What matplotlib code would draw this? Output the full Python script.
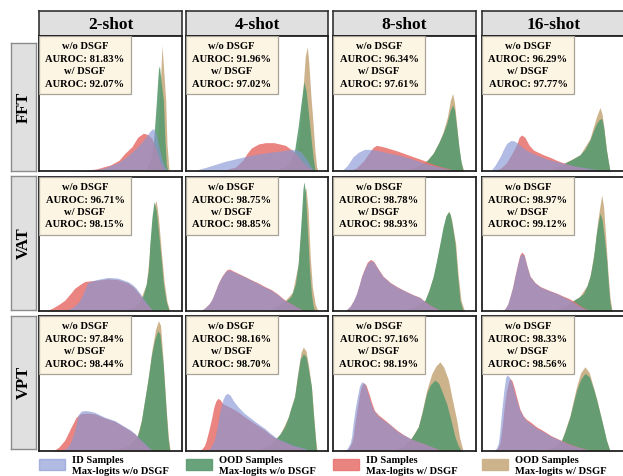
import matplotlib.pyplot as plt
from matplotlib.patches import Rectangle

plt.rcParams["font.family"] = ["Liberation Serif", "DejaVu Serif"]
plt.rcParams["font.weight"] = "bold"

shots = ["2-shot", "4-shot", "8-shot", "16-shot"]
methods = ["FFT", "VAT", "VPT"]

# density curves as (normalised max-logit score, density) pairs, one curve per shot setting
fft_id_wo = [
    [(20, 0), (35, 0.5), (45, 2), (55, 6), (62, 11), (69, 18), (74, 24), (78, 30), (80, 31.5), (82, 27), (84, 18), (86, 9), (88, 3), (90, 0)],
    [(5, 0), (15, 3), (27, 7), (41, 10.5), (50, 12.5), (60, 14), (68, 15), (74, 16), (78, 15.5), (81, 14), (84, 10), (86, 7), (88, 3), (90.6, 0)],
    [(6, 0), (10, 4), (14, 10.5), (18, 14), (22, 16), (26, 16), (30, 15.5), (38, 13.5), (45, 12), (55, 9), (63, 6), (70, 4), (76, 2.5), (82, 1), (87, 0)],
    [(6, 0), (9, 4), (12.6, 10.5), (15, 16), (17.3, 20.5), (20, 22.5), (22, 22.5), (24.5, 21), (26.6, 19), (30, 16), (33.6, 14), (40, 11), (45, 9), (52, 7), (57, 5.7), (66, 3.5), (75.5, 2), (82, 0.8), (87, 0)],
]
fft_ood_wo = [
    [(74, 0), (78, 8), (80, 20), (82, 50), (83.5, 75), (84.2, 78), (85.5, 65), (87, 52), (88, 25), (89, 5), (90, 0)],
    [(60, 0), (70, 3), (74, 8), (76.5, 15.5), (79, 33), (81, 50), (83, 66), (84.5, 60), (86, 45), (88, 25), (89.5, 10), (91, 0)],
    [(50, 0), (56, 2), (62, 5), (66, 8), (70, 13), (74, 21), (77, 28), (79.5, 35), (82, 45), (83.7, 49), (85, 45), (86.5, 32), (88, 18), (89.5, 7), (91, 0)],
    [(45, 0), (52, 2), (57, 5.5), (63, 8.5), (68.5, 12), (72, 16), (75.5, 23), (78, 30), (80, 35), (82, 38), (83.7, 39), (85, 33), (86, 24), (87, 15.5), (88.5, 6), (89.5, 0)],
]
fft_id_w = [
    [(28, 0), (40, 1.5), (50, 4.5), (56, 8), (60, 13), (65, 18), (69, 25), (73, 28), (76, 27), (79, 24), (82, 16), (85, 6), (88, 1), (90, 0)],
    [(25, 0), (35, 3), (40, 8), (43, 13), (46, 17), (51, 20), (56, 21), (62, 21), (66, 20), (70, 19), (74, 16), (78, 12), (82, 7), (86, 3), (90, 0)],
    [(10, 0), (16, 2), (21, 7), (25, 13), (28, 17.5), (30.5, 19), (35, 18), (44.5, 15), (55, 11), (63, 8), (70, 5), (78, 2.5), (85, 0.5), (90, 0)],
    [(8, 0), (13, 2), (17, 6), (21, 13), (24, 19), (26, 25), (27.7, 26.7), (30, 25), (33, 19), (36, 15.5), (43, 12), (48, 10), (52, 8), (57, 6), (63, 4), (70, 2.5), (78, 1), (85, 0)],
]
fft_ood_w = [
    [(80, 0), (83, 20), (84.5, 55), (86, 93), (87.5, 70), (88.6, 52), (89.5, 20), (91, 0)],
    [(76, 0), (80, 25), (82, 55), (84, 85), (85.4, 92), (86.5, 80), (88, 55), (89.5, 35), (90.8, 15), (92, 3), (93, 0)],
    [(50, 0), (60, 4), (66, 8), (70, 13), (74, 21), (77, 29), (80, 40), (82, 52), (83.7, 57.5), (85, 50), (86.5, 34), (88, 18), (89.5, 7), (91.5, 0)],
    [(45, 0), (57, 5.5), (68.5, 12), (75.5, 24), (78, 33), (80, 40), (82.5, 47), (84, 42), (85.5, 30), (87, 16), (88.5, 6), (89.5, 0)],
]

vat_id_wo = [
    [(18, 0), (24, 3), (28, 7), (30, 11), (32, 16), (34, 21), (37, 22.5), (41, 23.6), (48, 25), (55, 24.6), (62, 22), (65, 20), (68, 17), (71, 12.5), (74, 8), (77, 3.5), (80, 0)],
    [(10, 0), (13, 2), (16, 5), (18, 8), (20, 13), (22.5, 20), (25, 25), (27.3, 28.6), (29, 30.3), (30.8, 30.5), (33, 29.5), (37, 27.5), (41.3, 25.5), (46, 23), (50.7, 20.5), (55, 18), (60, 15.5), (64.8, 12), (68, 9), (71, 7), (74, 5.5), (78, 3), (83.6, 0)],
    [(8, 0), (10, 1.5), (12, 3.5), (14.5, 8), (16.5, 13), (18.5, 20), (20, 25.6), (22, 31), (24, 35.5), (26.3, 37.5), (28.5, 36.5), (31, 32), (35, 25.6), (40, 21), (44.5, 18), (50, 15), (56, 12), (60.8, 10), (64, 7), (67.8, 4.5), (72, 2), (77, 0)],
    [(14, 0), (16, 1.5), (18, 5), (19.6, 10.7), (21.5, 18), (23, 25.6), (25, 35), (26.5, 41), (27.8, 43), (29.5, 41), (31.5, 33), (33.6, 25.6), (37, 21), (40.6, 18), (46, 15.5), (52.2, 13), (57, 10.5), (61.5, 8), (66, 5), (70, 2.5), (75.5, 0)],
]
vat_ood_wo = [
    [(60, 0), (66, 3), (70, 6), (73, 12), (75, 20), (76.5, 30), (77.5, 50), (79, 70), (80.4, 81.6), (82, 75), (83.5, 60), (85.5, 38), (87, 20), (89, 7), (91, 0)],
    [(55, 0), (62, 2), (68, 6), (71, 8), (74, 11), (77, 20), (79, 35), (80.3, 55), (81.5, 75), (82.3, 90), (83, 96.5), (84, 90), (85.5, 60), (87, 30), (88.3, 13), (89.5, 4), (90.6, 0)],
    [(50, 0), (56, 2), (61, 5), (64.3, 8), (67, 15), (70, 25.6), (72.5, 38), (74.8, 50.5), (77, 63), (79, 71), (80.7, 74), (82, 72), (83.5, 63), (85.3, 50.5), (87, 28), (88.8, 8), (91, 0)],
    [(50, 0), (56, 2), (60, 4.5), (64, 8), (68, 10.5), (71, 13), (73.5, 19), (75.5, 25.6), (78, 40), (80, 58), (82.5, 73), (84, 68), (85.5, 55), (87.2, 38), (88.5, 18), (89.5, 6), (90.7, 0)],
]
vat_id_w = [
    [(5, 0), (10, 2.5), (14, 5), (18, 8), (22, 13), (25, 17), (29, 20), (32, 22), (36, 22.5), (41, 23), (48, 24), (55, 23.5), (62, 21), (66, 18), (70, 13), (74, 7), (78, 2), (80, 0)],
    [(10, 0), (13, 2), (16, 5), (18, 8), (20, 13), (22.5, 20), (25, 25.5), (27.3, 29), (29, 31), (30.8, 31.3), (33, 30), (37, 28), (41.3, 25.8), (46, 23.3), (50.7, 21), (55, 18.5), (60, 16), (64.8, 12.5), (68, 9.5), (71, 7.3), (74, 5.6), (78, 3), (83.6, 0)],
    [(8, 0), (10, 1.5), (12, 3.5), (14.5, 8), (16.5, 13), (18.5, 20), (20, 26), (22, 31.5), (24, 36.5), (26.3, 38.5), (28.5, 37), (31, 32.5), (35, 26), (40, 21.3), (44.5, 18.3), (50, 15.2), (56, 12.2), (60.8, 10.2), (64, 7.2), (67.8, 4.6), (72, 2), (77, 0)],
    [(14, 0), (16, 1.5), (18, 5), (19.6, 10.7), (21.5, 18), (23, 26), (25, 35.5), (26.5, 42), (27.8, 44), (29.5, 42), (31.5, 33.5), (33.6, 26), (37, 21.3), (40.6, 18.3), (46, 15.8), (52.2, 13.3), (57, 11), (61.5, 9), (66, 6), (70, 3), (76, 0)],
]
vat_ood_w = [
    [(62, 0), (70, 6), (75, 20), (77, 40), (79, 65), (81, 80), (82, 82.3), (83.5, 70), (85.5, 45), (87.5, 22), (89.5, 7), (91.5, 0)],
    [(60, 0), (70, 8), (75, 14), (79, 35), (81, 60), (83, 85), (84.5, 92), (86, 75), (87.5, 40), (89, 18), (91, 5), (93, 0)],
    [(50, 0), (61, 5), (64.5, 8), (70.3, 25.6), (75, 50.5), (79, 71), (81.2, 74.5), (83, 68), (85.8, 50), (87.5, 27), (89.5, 8), (92, 0)],
    [(50, 0), (60, 4.5), (68, 10.5), (73.5, 19), (76, 28), (78.5, 45), (81, 68), (83.7, 86.6), (85, 78), (86.5, 55), (88, 30), (89.5, 10), (91, 0)],
]

vpt_id_wo = [
    [(15, 0), (19, 2), (22, 6), (25, 15.5), (27.3, 26.7), (29.5, 29.5), (32, 30), (35.5, 29.5), (39, 28.6), (46, 25), (53, 22.5), (60, 18), (64, 15.5), (67, 13), (70.5, 9), (74, 5.7), (77, 2.5), (80, 0)],
    [(14, 0), (17, 2), (20, 8), (22, 18), (24, 30), (26, 38), (27.5, 41.5), (29, 42.7), (31, 41.5), (33.5, 37), (36.6, 32.8), (41, 28), (46, 24), (51, 20), (55.4, 16.8), (59, 13.5), (62.5, 10.6), (66, 8.5), (69.5, 7), (75, 4.5), (80, 3), (83.6, 2), (88, 0)],
    [(8, 0), (10, 2), (12, 6), (13, 10.6), (14, 20), (15.4, 30.4), (17, 40), (18.5, 48), (20, 51.3), (22, 50), (24, 44), (26, 37), (28.2, 30.4), (31, 26.5), (35, 23), (39, 20), (44.5, 15), (49, 12), (53.8, 9.4), (58, 7.5), (63, 5.7), (68, 3.5), (72, 2), (77, 0)],
    [(8, 0), (10, 2), (11.4, 5.7), (12.5, 15), (13.8, 30.4), (15.3, 45), (16.5, 54), (17.3, 56.3), (19, 55), (21, 50), (22.5, 44), (24.2, 37.8), (26.5, 30), (28.9, 25.4), (31, 22.5), (33.6, 20.5), (38, 17), (42.9, 14.3), (48, 11), (54.5, 8), (60, 5.5), (66, 3.2), (72, 1.5), (77.8, 0)],
]
vpt_ood_wo = [
    [(50, 0), (58, 2), (63, 4), (66, 7), (68.5, 10.6), (70, 15), (71.7, 23), (73.5, 35), (76.2, 52.6), (78.5, 70), (81, 83), (83, 89), (84.5, 87), (86.7, 65), (88, 45), (89, 28), (90.2, 10), (91.4, 0)],
    [(50, 0), (56, 2.5), (60, 5), (63.6, 9.4), (66.5, 13), (69.5, 18), (72, 25), (74, 32), (76.5, 40), (78.5, 55), (80.5, 68), (82.6, 72), (84.5, 70), (86, 62), (88.3, 47.6), (89.5, 30), (90.6, 15.5), (91.8, 0)],
    [(40, 0), (45, 1.5), (49, 3), (53.8, 8), (57, 13), (59.7, 18), (62, 27), (65.5, 42.7), (68, 49), (71.3, 52.6), (74, 50), (77, 42), (79.5, 35), (82, 25), (85.3, 10.6), (87.5, 4), (90, 0)],
    [(40, 0), (46, 1), (50, 2.5), (53, 5), (55.7, 8), (58, 14), (61.5, 25.4), (64, 36), (66.2, 45), (69, 53), (72, 57.5), (75, 55), (78, 46), (80.2, 37.8), (82.5, 28), (84.8, 18), (87, 8), (89.5, 0)],
]
vpt_id_w = [
    [(10, 0), (14, 3), (18, 8), (22.6, 18), (26, 25), (29, 27.5), (32, 28), (35.5, 28), (39, 27.5), (46, 24.5), (53, 22), (60, 17.5), (64, 15), (67, 12.5), (70.5, 8.5), (74, 5), (77, 2), (80, 0)],
    [(8, 0), (10.8, 1), (13, 4), (14.3, 8), (16, 15), (17.8, 23), (19.5, 32), (21, 37), (22.5, 39), (24, 38), (26, 35), (29, 33.5), (33.5, 31), (36.6, 29), (41, 25.5), (46, 22), (51, 18.5), (55.4, 15.5), (59, 12.5), (62.5, 10), (66, 8), (69.5, 6.5), (75, 4), (80, 2.5), (83.6, 1.5), (88, 0)],
    [(9, 0), (11, 2), (13, 6), (14, 10), (15, 18), (16.5, 29), (18, 39), (19.5, 47), (21.2, 50.6), (23, 49), (25, 43), (27, 36), (29, 30), (31.5, 27), (35, 24), (39, 20.5), (44.5, 15.6), (49, 12.3), (53.8, 9.4), (58, 7.5), (63, 5.7), (68, 3.5), (72, 2), (77, 0)],
    [(9, 0), (11, 2), (12.5, 6), (14, 17), (15.5, 32), (17, 44), (18.5, 51), (19.6, 53.8), (21, 52), (22.5, 47), (24.2, 40), (26.5, 31), (28.9, 26), (31, 23.5), (33.6, 21.7), (38, 18), (42.9, 15), (48, 11.5), (54.5, 8.3), (60, 5.8), (66, 3.4), (72, 1.6), (77.8, 0)],
]
vpt_ood_w = [
    [(50, 0), (63, 4), (68.5, 10.6), (71.7, 23), (76.2, 53), (79, 75), (81.5, 90), (83.5, 96.5), (85, 93), (86.8, 67), (89, 30), (90.5, 10), (91.8, 0)],
    [(50, 0), (60, 5), (66.5, 13), (72, 25), (76.5, 41), (79, 60), (81, 73), (82.6, 77), (84.5, 74), (86.5, 62), (88.5, 46), (90, 25), (91.2, 10), (92.3, 0)],
    [(40, 0), (49, 3), (53.8, 8), (59.7, 18), (62.5, 30), (65.5, 45), (69, 57), (72, 63), (74.8, 66), (77.5, 62), (80.7, 52.6), (83.5, 38), (86.5, 23), (88.5, 10), (91, 0)],
    [(40, 0), (50, 2.5), (55.7, 8), (61.5, 26), (64, 38), (66.2, 48), (69, 58), (72, 62.4), (75, 58), (78, 47), (80.2, 38.5), (84.8, 18), (87, 8), (89.5, 0)],
]

fft_auroc_wo = [81.83, 91.96, 96.34, 96.29]
fft_auroc_w = [92.07, 97.02, 97.61, 97.77]
vat_auroc_wo = [96.71, 98.75, 98.78, 98.97]
vat_auroc_w = [98.15, 98.85, 98.93, 99.12]
vpt_auroc_wo = [97.84, 98.16, 97.16, 98.33]
vpt_auroc_w = [98.44, 98.70, 98.19, 98.56]

rows = [
    (fft_id_wo, fft_ood_wo, fft_id_w, fft_ood_w, fft_auroc_wo, fft_auroc_w),
    (vat_id_wo, vat_ood_wo, vat_id_w, vat_ood_w, vat_auroc_wo, vat_auroc_w),
    (vpt_id_wo, vpt_ood_wo, vpt_id_w, vpt_ood_w, vpt_auroc_wo, vpt_auroc_w),
]

legend_labels = [
    "ID Samples\nMax-logits w/o DSGF",
    "OOD Samples\nMax-logits w/o DSGF",
    "ID Samples\nMax-logits w/ DSGF",
    "OOD Samples\nMax-logits w/ DSGF",
]
# (colour, alpha) for id_wo, ood_wo, id_w, ood_w
styles = [("#8797d4", 0.65), ("#5c9b70", 0.92), ("#e8736e", 0.88), ("#cdb38c", 1.0)]
draw_order = [3, 1, 2, 0]

W, H = 623, 476
fig = plt.figure(figsize=(W / 100, H / 100), dpi=100)


def px_axes(x0, y0, x1, y1):
    return fig.add_axes([x0 / W, 1 - y1 / H, (x1 - x0) / W, (y1 - y0) / H])


col_px = [(39, 182), (186, 328), (333, 476), (482, 625)]
row_px = [(36, 171), (177, 311), (316, 451)]
label_px = [(43, 171), (176, 310), (316, 449)]

# column headers
for (x0, x1), name in zip(col_px, shots):
    hx = px_axes(x0, 11, x1, 36)
    hx.set_xticks([])
    hx.set_yticks([])
    hx.set_facecolor("#e0e0e0")
    for sp in hx.spines.values():
        sp.set_color("#333333")
        sp.set_linewidth(1.2)
    hx.text(0.5, 0.45, name, ha="center", va="center", fontsize=12.5,
            fontweight="bold", transform=hx.transAxes)

# row labels
for (y0, y1), name in zip(label_px, methods):
    lx = px_axes(11, y0, 36, y1)
    lx.set_xticks([])
    lx.set_yticks([])
    lx.set_facecolor("#e0e0e0")
    for sp in lx.spines.values():
        sp.set_color("#8c8c8c")
        sp.set_linewidth(1.0)
    lx.text(0.5, 0.5, name, ha="center", va="center", rotation=90,
            fontsize=12, fontweight="bold", transform=lx.transAxes)

for r, (y0, y1) in enumerate(row_px):
    series = rows[r][:4]
    auroc_wo, auroc_w = rows[r][4], rows[r][5]
    for c, (x0, x1) in enumerate(col_px):
        ax = px_axes(x0, y0, x1, y1)
        for k in draw_order:
            pts = series[k][c]
            xs = [p[0] for p in pts]
            ys = [p[1] for p in pts]
            color, alpha = styles[k]
            ax.fill_between(xs, ys, 0, color=color, alpha=alpha, linewidth=0)
        ax.set_xlim(0, 100)
        ax.set_ylim(0, 100)
        ax.set_xticks([])
        ax.set_yticks([])
        for sp in ax.spines.values():
            sp.set_color("#222222")
            sp.set_linewidth(1.3)

        # AUROC box in the upper-left corner
        ax.add_patch(Rectangle((0, 0.57), 0.645, 0.43, transform=ax.transAxes,
                               facecolor="#fdf5e3", edgecolor="#a9a49a",
                               linewidth=0.9, zorder=5))
        lines = ["w/o DSGF", f"AUROC: {auroc_wo[c]:.2f}%",
                 "w/ DSGF", f"AUROC: {auroc_w[c]:.2f}%"]
        for i, t in enumerate(lines):
            ax.text(0.322, 0.921 - i * 0.093, t, ha="center", va="center",
                    fontsize=7.6, fontweight="bold", transform=ax.transAxes,
                    zorder=6)

# legend row along the bottom, one entry under each column
for k, ((x0, _), label) in enumerate(zip(col_px, legend_labels)):
    color, alpha = styles[k]
    fig.patches.append(Rectangle((x0 / W, 1 - 470 / H), 26 / W, 11 / H,
                                 transform=fig.transFigure, facecolor=color,
                                 alpha=alpha, edgecolor=color, linewidth=1.0))
    fig.text((x0 + 33) / W, 1 - 456 / H, label, ha="left", va="top",
             fontsize=7.6, fontweight="bold", linespacing=1.3)

fig.savefig("out.png", dpi=100)
